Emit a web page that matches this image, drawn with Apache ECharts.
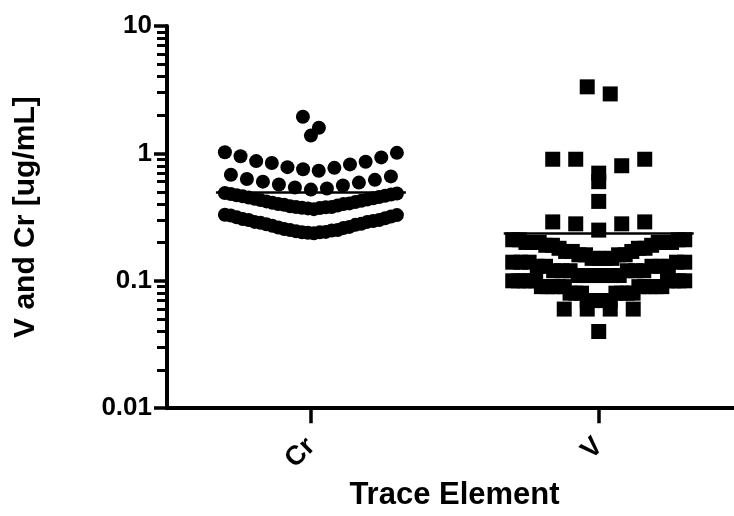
<!DOCTYPE html>
<html>
<head>
<meta charset="utf-8">
<script src="https://cdn.jsdelivr.net/npm/echarts@6/dist/echarts.min.js"></script>
<style>
html,body{margin:0;padding:0;background:#fff}
#chart{width:734px;height:516px}
</style>
</head>
<body>
<div id="chart"></div>
<script>
// categories and values
var categories = ['Cr', 'V'];

var crValues = [1.94, 1.59, 1.38,
    1.02, 1.01, 0.95, 0.93, 0.87, 0.86, 0.84, 0.82, 0.78, 0.77, 0.75, 0.73,
    0.68, 0.66, 0.63, 0.62, 0.60, 0.59, 0.57, 0.56, 0.54, 0.53, 0.52,
    0.488, 0.485, 0.48, 0.475, 0.47, 0.465, 0.46, 0.455, 0.45, 0.445, 0.44, 0.435,
    0.43, 0.425, 0.42, 0.415, 0.41, 0.405, 0.40, 0.40, 0.395, 0.39, 0.385, 0.38,
    0.38, 0.378, 0.375, 0.372, 0.37, 0.365,
    0.33, 0.328, 0.325, 0.32, 0.315, 0.31, 0.305, 0.30, 0.30, 0.295, 0.29, 0.29,
    0.285, 0.28, 0.278, 0.275, 0.27, 0.265, 0.262, 0.26, 0.255, 0.25, 0.25,
    0.248, 0.245, 0.242, 0.24, 0.24, 0.238, 0.236];

var vValues = [3.33, 2.93, 0.9, 0.9, 0.9, 0.8, 0.7, 0.6, 0.42,
    0.29, 0.29, 0.28, 0.28, 0.25,
    0.21, 0.21, 0.21, 0.21, 0.2, 0.2, 0.2, 0.2, 0.2, 0.2,
    0.19, 0.19, 0.19, 0.18, 0.18, 0.18, 0.17, 0.17, 0.17,
    0.16, 0.16, 0.16, 0.16, 0.15, 0.15, 0.15, 0.15,
    0.14, 0.14, 0.14, 0.14, 0.14, 0.13, 0.13, 0.13, 0.13, 0.13,
    0.12, 0.12, 0.12, 0.12, 0.12, 0.12, 0.11, 0.11, 0.11, 0.11, 0.11, 0.11,
    0.1, 0.1, 0.1, 0.1, 0.1, 0.1, 0.1, 0.1, 0.1,
    0.09, 0.09, 0.09, 0.09, 0.09, 0.09, 0.09, 0.09, 0.09, 0.09,
    0.08, 0.08, 0.08, 0.08, 0.08, 0.08, 0.08,
    0.07, 0.07, 0.07, 0.07, 0.07,
    0.06, 0.06, 0.06, 0.06, 0.04];

var yTicks = [0.01, 0.1, 1, 10];
var yTickLabels = ['0.01', '0.1', '1', '10'];
var yMinorTicks = [0.02, 0.03, 0.04, 0.05, 0.06, 0.07, 0.08, 0.09,
    0.2, 0.3, 0.4, 0.5, 0.6, 0.7, 0.8, 0.9,
    2, 3, 4, 5, 6, 7, 8, 9];

var FONT = '"Liberation Sans", Arial, sans-serif';

// horizontal spread like a column scatter: rows of equal log height,
// lowest value of a row in the middle, others alternate outwards
function swarmOffsets(values, anchor, binW, maxStep, maxWidth) {
    var bins = {};
    values.forEach(function (v, i) {
        var k = Math.floor((anchor - Math.log10(v)) / binW);
        (bins[k] = bins[k] || []).push(i);
    });
    var offsets = new Array(values.length);
    Object.keys(bins).forEach(function (k) {
        var idx = bins[k].slice().sort(function (a, b) { return values[a] - values[b]; });
        var n = idx.length;
        var step = n > 1 ? Math.min(maxStep, maxWidth / (n - 1)) : 0;
        idx.forEach(function (id, j) {
            var slot;
            if (n % 2) {
                slot = j === 0 ? 0 : Math.ceil(j / 2) * (j % 2 ? 1 : -1);
            } else {
                slot = (Math.floor(j / 2) + 0.5) * (j % 2 ? -1 : 1);
            }
            offsets[id] = slot * step;
        });
    });
    return offsets;
}

function mean(arr) {
    var s = 0;
    arr.forEach(function (v) { s += v; });
    return s / arr.length;
}

function buildSeries(values, ci, symbol, size, offsets) {
    var x = ci + 0.5;
    var m = mean(values);
    return {
        name: categories[ci],
        type: 'scatter',
        symbol: symbol,
        symbolSize: size,
        itemStyle: { color: '#000', opacity: 1 },
        data: values.map(function (v, i) {
            return { value: [x, v], symbolOffset: [offsets[i], 0] };
        }),
        markLine: {
            silent: true,
            symbol: 'none',
            label: { show: false },
            lineStyle: { color: '#000', width: 2.5, type: 'solid' },
            data: [[{ coord: [x - 0.33, m] }, { coord: [x + 0.33, m] }]]
        }
    };
}

var crOffsets = swarmOffsets(crValues, 0.01, 0.16, 16, 172);
var vOffsets = swarmOffsets(vValues, -0.997, 0.16, 23, 172);

var chart = echarts.init(document.getElementById('chart'));
var option = {
    animation: false,
    grid: { left: 167, top: 26, right: 0, bottom: 107 },
    xAxis: {
        type: 'value',
        min: 0,
        max: 1.97,   // axis runs on past the right edge of the picture
        name: 'Trace Element',
        nameLocation: 'middle',
        nameGap: 68,
        nameTextStyle: { color: '#000', fontFamily: FONT, fontWeight: 'bold', fontSize: 31, padding: [0, 0, 0, 8] },
        axisLine: { show: true, lineStyle: { color: '#000', width: 4 } },
        axisTick: { show: true, customValues: [0.5, 1.5], length: 15, lineStyle: { color: '#000', width: 3.5 } },
        axisLabel: {
            customValues: [0.5, 1.5],
            rotate: 45,
            margin: 34,
            color: '#000',
            fontFamily: FONT,
            fontWeight: 'bold',
            fontSize: 27,
            formatter: function (v) { return categories[Math.round(v - 0.5)]; }
        },
        splitLine: { show: false }
    },
    yAxis: [{
        type: 'log',
        logBase: 10,
        min: 0.01,
        max: 10,
        name: 'V and Cr [ug/mL]',
        nameLocation: 'middle',
        nameGap: 126,
        nameTextStyle: { color: '#000', fontFamily: FONT, fontWeight: 'bold', fontSize: 30 },
        axisLine: { show: true, lineStyle: { color: '#000', width: 4 } },
        axisTick: { show: true, customValues: yTicks, length: 13, lineStyle: { color: '#000', width: 3.5 } },
        axisLabel: {
            customValues: yTicks,
            margin: 15,
            color: '#000',
            fontFamily: FONT,
            fontWeight: 'bold',
            fontSize: 26,
            formatter: function (v) {
                for (var i = 0; i < yTicks.length; i++) {
                    if (Math.abs(Math.log10(v) - Math.log10(yTicks[i])) < 1e-6) return yTickLabels[i];
                }
                return '';
            }
        },
        splitLine: { show: false }
    }, {
        // minor ticks of the log axis
        type: 'log',
        logBase: 10,
        min: 0.01,
        max: 10,
        position: 'left',
        axisLine: { show: false },
        axisTick: { show: true, customValues: yMinorTicks, length: 10, lineStyle: { color: '#000', width: 3 } },
        axisLabel: { show: false },
        splitLine: { show: false }
    }],
    series: [
        buildSeries(crValues, 0, 'circle', 14, crOffsets),
        buildSeries(vValues, 1, 'rect', 15, vOffsets)
    ]
};
chart.setOption(option);
</script>
</body>
</html>
